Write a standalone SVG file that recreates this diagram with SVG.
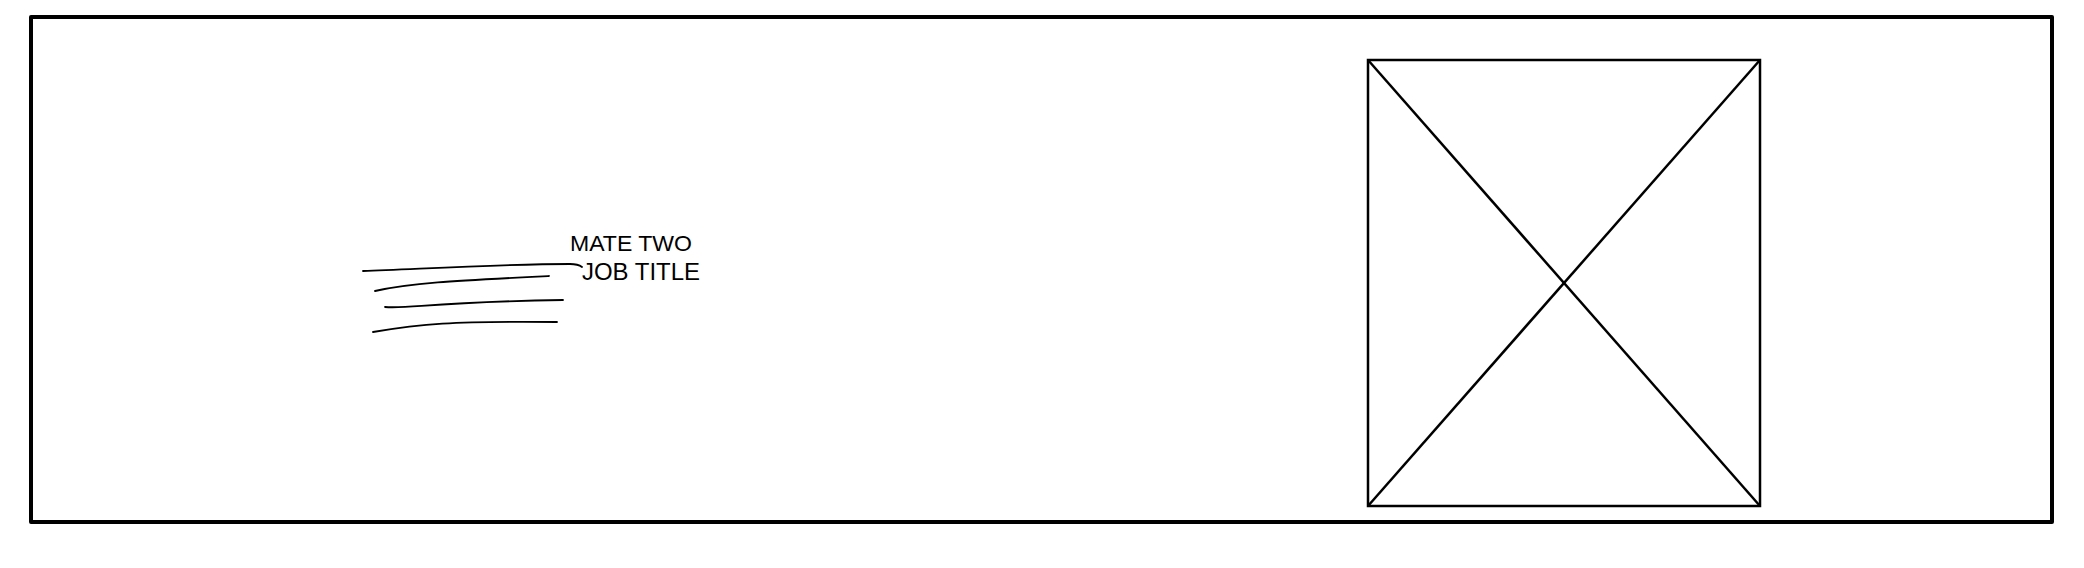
<svg xmlns="http://www.w3.org/2000/svg" width="2084" height="568" viewBox="0 0 2084 568">
<style>
.frame{fill:none;stroke:#000;stroke-width:4;stroke-linejoin:round}
.box{fill:none;stroke:#000;stroke-width:2.5}
.sk{fill:none;stroke:#000;stroke-width:1.8;stroke-linecap:round}
.lbl{font-family:"Liberation Sans","DejaVu Sans",sans-serif;fill:#000}
</style>
<rect width="2084" height="568" fill="#fff"/>
<g id="frame"><rect class="frame" x="31" y="17" width="2021" height="505"/></g>
<g id="image-placeholder">
<rect class="box" x="1368" y="60" width="392" height="446"/>
<line class="box" x1="1368" y1="60" x2="1760" y2="506"/>
<line class="box" x1="1760" y1="60" x2="1368" y2="506"/>
</g>
<g id="text-lines">
<path class="sk" d="M363 271 C420 269 500 264 570 264 Q578 264 582 267"/>
<path class="sk" d="M375 291 C410 283 450 281 549 276"/>
<path class="sk" d="M385 307 C410 309 430 302 563 300"/>
<path class="sk" d="M373 332 C420 324 450 321 557 322"/>
</g>
<g id="name-label">
<text class="lbl" x="570" y="251" font-size="22" textLength="122" lengthAdjust="spacingAndGlyphs">MATE TWO</text>
<text class="lbl" x="582" y="280" font-size="24" textLength="118" lengthAdjust="spacingAndGlyphs">JOB TITLE</text>
</g>
</svg>
